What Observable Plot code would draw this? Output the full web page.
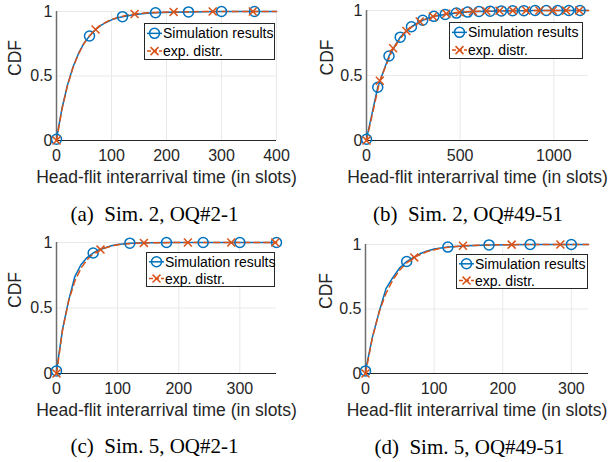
<!DOCTYPE html>
<html><head><meta charset="utf-8">
<script src="https://cdn.jsdelivr.net/npm/d3@7"></script>
<script src="https://cdn.jsdelivr.net/npm/@observablehq/plot@0.6"></script>
<style>
body{margin:0;background:#fff;}
#fig{position:relative;width:611px;height:462px;overflow:hidden;font-family:"Liberation Sans",Arial,sans-serif;background:#fff;}
.panel{position:absolute;}
.cap{position:absolute;font-family:"Liberation Serif","Times New Roman",serif;font-size:21px;line-height:25px;white-space:pre;text-align:center;width:240px;color:#000;}
.leg{position:absolute;overflow:visible;}
</style></head>
<body><div id="fig"></div>
<script>
// ---- data ----
const xLabel = "Head-flit interarrival time (in slots)";
const yLabel = "CDF";
const seriesNames = ["Simulation results", "exp. distr."];
const captions = ["(a)  Sim. 2, OQ#2-1", "(b)  Sim. 2, OQ#49-51", "(c)  Sim. 5, OQ#2-1", "(d)  Sim. 5, OQ#49-51"];
const yTicks = [0, 0.5, 1];

// (a)
const xTicks_a = [0, 100, 200, 300, 400];
const simX_a = [0,10,20,30,40,50,60,70,80,90,100,110,120,140,160,180,210,240,270,300,360,400];
const simY_a = [0.01,0.25,0.43,0.57,0.675,0.755,0.81,0.855,0.89,0.915,0.935,0.95,0.96,0.975,0.985,0.99,0.995,0.997,0.999,1,1,1];
const simMk_a = [0,60,120,180,240,300,360];
const expX_a = [0,10,20,30,40,50,60,71,80,90,100,120,142,160,180,213,250,284,357,400];
const expY_a = [0,0.243,0.426,0.565,0.671,0.751,0.811,0.861,0.892,0.918,0.938,0.964,0.981,0.988,0.993,0.997,0.999,1,1,1];
const expMk_a = [0,71,142,213,284,357];

// (b)
const xTicks_b = [0, 500, 1000];
const simX_b = [0,60,120,180,240,300,360,420,480,540,600,660,720,780,840,900,960,1020,1080,1140,1185];
const simY_b = [0.01,0.41,0.65,0.795,0.875,0.925,0.955,0.97,0.98,0.988,0.992,0.995,0.997,0.998,0.999,1,1,1,1,1,1];
const simMk_b = [0,60,120,180,240,300,360,420,480,540,600,660,720,780,840,900,960,1020,1080,1140];
const expX_b = [0,71,142,213,284,355,426,497,568,639,710,781,852,923,994,1065,1136,1185];
const expY_b = [0,0.46,0.71,0.843,0.915,0.954,0.975,0.987,0.993,0.996,0.998,0.999,1,1,1,1,1,1];
const expMk_b = [0,71,142,213,284,355,426,497,568,639,710,781,852,923,994,1065,1136];

// (c)
const xTicks_c = [0, 100, 200, 300];
const simX_c = [0,10,20,30,40,50,60,70,80,90,100,120,150,180,240,300,360];
const simY_c = [0.02,0.34,0.56,0.74,0.83,0.885,0.92,0.945,0.96,0.975,0.985,0.995,0.998,1,1,1,1];
const simMk_c = [0,60,120,180,240,300,360];
const expX_c = [0,10,20,30,40,50,60,72,90,110,143,180,215,286,358,360];
const expY_c = [0,0.334,0.556,0.705,0.803,0.869,0.913,0.946,0.974,0.989,0.997,0.999,1,1,1,1];
const expMk_c = [0,72,143,215,286,358];

// (d)
const xTicks_d = [0, 100, 200, 300];
const simX_d = [0,10,20,30,40,50,60,70,80,90,100,120,150,180,240,300,325];
const simY_d = [0.02,0.28,0.48,0.66,0.745,0.82,0.868,0.9,0.93,0.95,0.965,0.98,0.99,0.997,1,1,1];
const simMk_d = [0,60,120,180,240,300];
const expX_d = [0,10,20,30,40,50,60,71,90,110,142,180,213,284,325];
const expY_d = [0,0.277,0.478,0.622,0.727,0.803,0.857,0.9,0.946,0.972,0.99,0.997,0.999,1,1];
const expMk_d = [0,71,142,213,284];

const blue = "#0072BD", orange = "#D95319", axisColor = "#262626";

const panels = [
  {left:0,   top:0,   xDomain:[0,400],  xTicks:xTicks_a, simX:simX_a, simY:simY_a, simMk:simMk_a, expX:expX_a, expY:expY_a, expMk:expMk_a,
   mL:56, mR:29, mT:11, bottom:140, yDx:-41, leg:[144,23,131,37], cap:[154.5,202]},
  {left:305, top:0,   xDomain:[0,1185], xTicks:xTicks_b, simX:simX_b, simY:simY_b, simMk:simMk_b, expX:expX_b, expY:expY_b, expMk:expMk_b,
   mL:61, mR:22, mT:10, bottom:140, yDx:-39, leg:[144,22,134,37], cap:[163,202]},
  {left:0,   top:231, xDomain:[0,360],  xTicks:xTicks_c, simX:simX_c, simY:simY_c, simMk:simMk_c, expX:expX_c, expY:expY_c, expMk:expMk_c,
   mL:56, mR:29, mT:11, bottom:142, yDx:-41, leg:[146,21,129,35], cap:[154.5,203]},
  {left:305, top:231, xDomain:[0,325],  xTicks:xTicks_d, simX:simX_d, simY:simY_d, simMk:simMk_d, expX:expX_d, expY:expY_d, expMk:expMk_d,
   mL:60, mR:22, mT:13, bottom:142, yDx:-39, leg:[151,23,132,35], cap:[164.5,204]}
];

const H = 200, W = 305;
const fig = document.getElementById("fig");
const crossR = 3.7;

panels.forEach((p, i) => {
  const sim = p.simX.map((x, k) => ({x, y: p.simY[k]}));
  const exp = p.expX.map((x, k) => ({x, y: p.expY[k]}));
  const simM = sim.filter(d => p.simMk.includes(d.x));
  const expM = exp.filter(d => p.expMk.includes(d.x));
  const chart = Plot.plot({
    width: W, height: H,
    marginLeft: p.mL, marginRight: p.mR, marginTop: p.mT, marginBottom: H - p.bottom,
    style: {fontFamily: "'Liberation Sans', Arial, sans-serif", fontSize: "16px", background: "transparent", overflow: "visible", color: axisColor},
    x: {domain: p.xDomain, label: null},
    y: {domain: [0, 1], label: null},
    marks: [
      Plot.gridX(p.xTicks.filter(t => t > 0), {stroke: "#e9e9e9", strokeOpacity: 1}),
      Plot.gridY([0.5, 1], {stroke: "#e9e9e9", strokeOpacity: 1}),
      Plot.axisX({ticks: p.xTicks, tickSize: 0, tickPadding: 9, tickFormat: d => String(d), label: null, fontSize: 16, fill: axisColor}),
      Plot.axisY({ticks: yTicks, tickSize: 0, tickPadding: 4, tickFormat: d => String(d), label: null, fontSize: 16, fill: axisColor}),
      Plot.ruleX([p.xDomain[0]], {stroke: "#6e6e6e", strokeWidth: 1.5}),
      Plot.ruleY([0], {stroke: axisColor, strokeWidth: 1}),
      Plot.line(sim, {x: "x", y: "y", stroke: blue, strokeWidth: 1.5}),
      Plot.line(exp, {x: "x", y: "y", stroke: orange, strokeWidth: 1.5, strokeDasharray: "6,4"}),
      Plot.dot(simM, {x: "x", y: "y", r: 5, stroke: blue, strokeWidth: 1.5, fill: "none"}),
      Plot.dot(expM, {x: "x", y: "y", symbol: "times", r: crossR, stroke: orange, strokeWidth: 1.5}),
      Plot.text([xLabel], {text: d => d, frameAnchor: "bottom", dy: 37, fontSize: 17.5, fill: axisColor, lineAnchor: "middle"}),
      Plot.text([yLabel], {text: d => d, frameAnchor: "left", dx: p.yDx, rotate: -90, fontSize: 17.5, fill: axisColor, lineAnchor: "middle"})
    ]
  });
  const wrap = document.createElement("div");
  wrap.className = "panel";
  wrap.style.left = p.left + "px";
  wrap.style.top = p.top + "px";
  wrap.appendChild(chart);
  fig.appendChild(wrap);

  // legend
  const [lx, ly, lw, lh] = p.leg;
  const svg = d3.select(fig).append("svg").attr("class", "leg")
    .attr("width", lw).attr("height", lh)
    .style("left", (p.left + lx) + "px").style("top", (p.top + ly) + "px");
  svg.append("rect").attr("x", 0.5).attr("y", 0.5).attr("width", lw - 1).attr("height", lh - 1)
    .attr("fill", "#fff").attr("stroke", axisColor).attr("stroke-width", 1);
  const rows = [lh * 0.28, lh * 0.76];
  svg.append("line").attr("x1", 3).attr("x2", 18).attr("y1", rows[0]).attr("y2", rows[0]).attr("stroke", blue).attr("stroke-width", 1.5);
  svg.append("circle").attr("cx", 10.5).attr("cy", rows[0]).attr("r", 5).attr("fill", "none").attr("stroke", blue).attr("stroke-width", 1.5);
  svg.append("text").attr("x", 19).attr("y", rows[0]).attr("dy", "0.35em").attr("font-size", 14).attr("fill", "#000")
    .attr("font-family", "'Liberation Sans', Arial, sans-serif").text(seriesNames[0]);
  svg.append("line").attr("x1", 3).attr("x2", 18).attr("y1", rows[1]).attr("y2", rows[1]).attr("stroke", orange).attr("stroke-width", 1.5).attr("stroke-dasharray", "4,2");
  svg.append("path").attr("d", d3.symbol(d3.symbolTimes, Math.PI * crossR * crossR)()).attr("transform", `translate(10.5,${rows[1]})`)
    .attr("fill", "none").attr("stroke", orange).attr("stroke-width", 1.5);
  svg.append("text").attr("x", 19).attr("y", rows[1]).attr("dy", "0.35em").attr("font-size", 14).attr("fill", "#000")
    .attr("font-family", "'Liberation Sans', Arial, sans-serif").text(seriesNames[1]);

  // caption
  const cap = document.createElement("div");
  cap.className = "cap";
  cap.textContent = captions[i];
  cap.style.left = (p.left + p.cap[0] - 120) + "px";
  cap.style.top = (p.top + p.cap[1]) + "px";
  fig.appendChild(cap);
});
</script>
</body></html>
